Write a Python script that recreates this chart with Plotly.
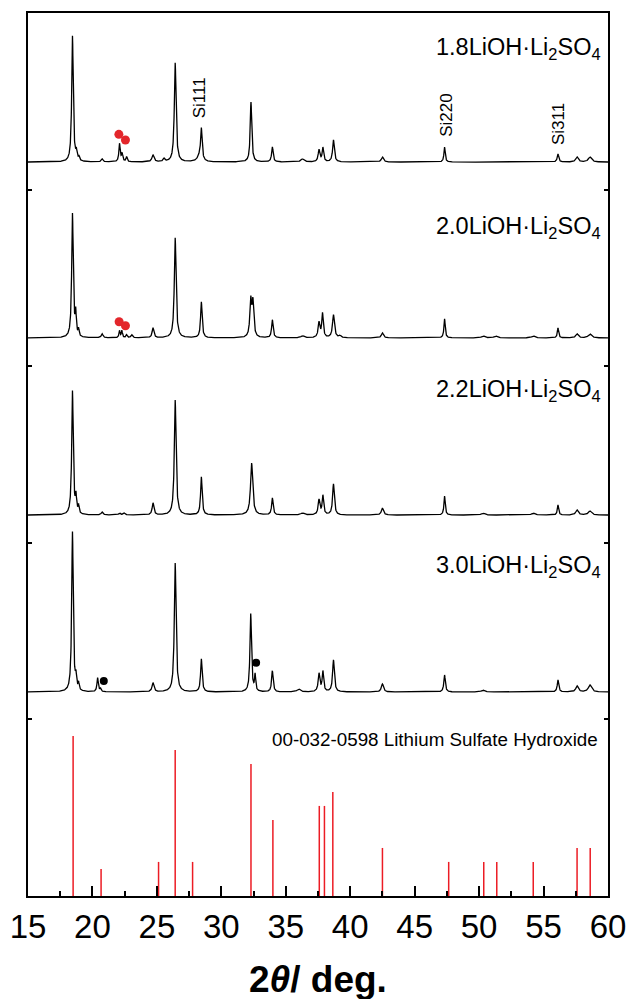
import numpy as np
import plotly.graph_objects as go

# ---------------- data ----------------
sample_labels = ["1.8LiOH·Li<sub>2</sub>SO<sub>4</sub>", "2.0LiOH·Li<sub>2</sub>SO<sub>4</sub>",
                 "2.2LiOH·Li<sub>2</sub>SO<sub>4</sub>", "3.0LiOH·Li<sub>2</sub>SO<sub>4</sub>"]
offsets = [4.156, 3.160, 2.157, 1.155]
INT_SCALE = 176.6  # intensity units per y unit

# peak lists: position (2theta), intensity, half width
s18_pos = [18.45, 18.75, 18.95, 20.75, 22.10, 22.30, 22.65, 24.70, 25.55, 26.42, 28.30, 28.45, 32.30, 33.96,
           36.30, 37.58, 37.88, 38.70, 42.50, 47.32, 56.12, 57.60, 58.60]
s18_int = [126, 8, 4, 3, 18, 8, 5, 7, 3, 99, 5, 31, 60, 15, 3, 12, 14, 22, 5, 15, 8, 5, 5]
s18_w = [0.07, 0.06, 0.05, 0.08, 0.06, 0.06, 0.06, 0.10, 0.08, 0.08, 0.20, 0.07, 0.07, 0.07,
         0.15, 0.08, 0.07, 0.08, 0.10, 0.06, 0.07, 0.12, 0.15]

s20_pos = [18.45, 18.70, 18.92, 20.75, 22.10, 22.28, 22.65, 23.05, 24.70, 26.42, 28.45, 32.28, 32.45, 33.96,
           36.30, 37.58, 37.85, 38.70, 39.20, 42.50, 47.32, 50.30, 51.30, 54.20, 56.12, 57.60, 58.60]
s20_int = [124, 22, 7, 4, 7, 7, 3, 3, 10, 100, 36, 36, 34, 18, 2, 15, 24, 23, 2, 5, 19, 2, 2, 2, 10, 4, 4]
s20_w = [0.07, 0.05, 0.05, 0.08, 0.05, 0.05, 0.06, 0.08, 0.08, 0.08, 0.07, 0.08, 0.08, 0.07,
         0.15, 0.08, 0.07, 0.09, 0.10, 0.10, 0.06, 0.15, 0.15, 0.15, 0.06, 0.12, 0.15]

s22_pos = [18.45, 18.72, 18.92, 20.75, 22.10, 22.45, 24.70, 26.42, 28.45, 32.35, 33.96, 36.30, 37.58, 37.88,
           38.70, 42.50, 47.32, 50.30, 54.20, 56.12, 57.60, 58.60]
s22_int = [124, 16, 8, 3, 2, 2, 12, 115, 38, 52, 17, 2, 15, 19, 31, 7, 19, 2, 2, 10, 5, 4]
s22_w = [0.07, 0.05, 0.05, 0.08, 0.08, 0.08, 0.08, 0.08, 0.07, 0.10, 0.07, 0.15, 0.08, 0.07,
         0.08, 0.10, 0.06, 0.15, 0.15, 0.06, 0.12, 0.15]

s30_pos = [18.45, 18.72, 18.92, 20.40, 20.62, 24.70, 26.42, 28.45, 32.28, 32.62, 33.96, 36.00, 37.58, 37.88,
           38.70, 42.50, 47.32, 50.30, 56.12, 57.60, 58.60]
s30_int = [160, 12, 7, 14, 3, 9, 129, 33, 78, 16, 21, 3, 18, 20, 32, 8, 17, 2, 12, 6, 7]
s30_w = [0.07, 0.05, 0.05, 0.06, 0.06, 0.09, 0.08, 0.07, 0.07, 0.05, 0.07, 0.15, 0.08, 0.07,
         0.08, 0.10, 0.07, 0.15, 0.07, 0.12, 0.15]

# reference pattern 00-032-0598 (stick positions and relative intensities)
ref_pos = [18.50, 20.67, 25.13, 26.42, 27.77, 32.30, 34.00, 37.60, 38.00, 38.65, 42.50, 47.64, 50.36,
           51.37, 54.20, 57.60, 58.62]
ref_int = [0.906, 0.153, 0.193, 0.827, 0.193, 0.747, 0.430, 0.510, 0.510, 0.589, 0.272, 0.193, 0.193,
           0.193, 0.193, 0.272, 0.272]

# phase markers
red_x = [22.05, 22.56, 22.07, 22.56]
red_y = [4.313, 4.281, 3.252, 3.229]
blk_x = [20.88, 32.70]
blk_y = [1.217, 1.321]

si_labels = ["Si111", "Si220", "Si311"]
si_x = [28.37, 47.46, 56.17]
si_y = [4.519, 4.42, 4.369]

# ---------------- build ----------------
FONT = "Arial, Liberation Sans, sans-serif"
tt = np.arange(15.0, 60.0001, 0.01)

def profile(pos, inten, w):
    y = np.zeros_like(tt)
    for p, h, g in zip(pos, inten, w):
        y += h / (1.0 + ((tt - p) / g) ** 2)
    return y / INT_SCALE

fig = go.Figure()
spectra = [(s18_pos, s18_int, s18_w), (s20_pos, s20_int, s20_w),
           (s22_pos, s22_int, s22_w), (s30_pos, s30_int, s30_w)]
for (p, i, w), off in zip(spectra, offsets):
    fig.add_trace(go.Scatter(x=tt, y=profile(p, i, w) + off, mode="lines",
                             line=dict(color="black", width=1.3), hoverinfo="skip"))

sx, sy = [], []
for p, h in zip(ref_pos, ref_int):
    sx += [p, p, None]
    sy += [0, h, None]
fig.add_trace(go.Scatter(x=sx, y=sy, mode="lines", line=dict(color="#ec1c24", width=1.5)))

fig.add_trace(go.Scatter(x=red_x, y=red_y, mode="markers",
                         marker=dict(color="#e3262b", size=9, line=dict(width=0))))
fig.add_trace(go.Scatter(x=blk_x, y=blk_y, mode="markers",
                         marker=dict(color="black", size=8, line=dict(width=0))))

label_y = [4.80, 3.783, 2.865, 1.863]
for lab, ly in zip(sample_labels, label_y):
    fig.add_annotation(x=59.61, y=ly, text=lab, showarrow=False, xanchor="right", yanchor="middle",
                       font=dict(family=FONT, size=23.5, color="black"))

for lab, lx, ly in zip(si_labels, si_x, si_y):
    fig.add_annotation(x=lx, y=ly, text=lab, showarrow=False, textangle=-90,
                       xanchor="center", yanchor="middle",
                       font=dict(family=FONT, size=17, color="black"))

fig.add_annotation(x=59.38, y=0.889, text="00-032-0598 Lithium Sulfate Hydroxide", showarrow=False,
                   xanchor="right", yanchor="middle", font=dict(family=FONT, size=18.8, color="black"))

fig.add_annotation(x=0.5, y=-0.095, xref="paper", yref="paper",
                   text="<b>2<i>θ</i>/ deg.</b>", showarrow=False, xanchor="center", yanchor="middle",
                   font=dict(family=FONT, size=37, color="black"))

fig.update_layout(
    width=628, height=999, margin=dict(l=28, r=20, t=13, b=103),
    paper_bgcolor="white", plot_bgcolor="white", showlegend=False,
    xaxis=dict(range=[15, 60], tickmode="linear", tick0=15, dtick=5, ticks="inside", ticklen=10,
               tickwidth=2, tickcolor="black", showline=True, linewidth=2, linecolor="black",
               mirror=True, showgrid=False, zeroline=False, automargin=False,
               tickfont=dict(family=FONT, size=33, color="black"),
               minor=dict(ticks="inside", ticklen=5, tickwidth=2, tickcolor="black", dtick=2.5,
                          tick0=15, showgrid=False)),
    yaxis=dict(range=[0, 5], tickmode="linear", tick0=0, dtick=1, ticks="inside", ticklen=4,
               tickwidth=2, tickcolor="black", showline=True, linewidth=2, linecolor="black",
               mirror="ticks", showgrid=False, zeroline=False, showticklabels=False, automargin=False),
)

fig.write_html("out.html")
